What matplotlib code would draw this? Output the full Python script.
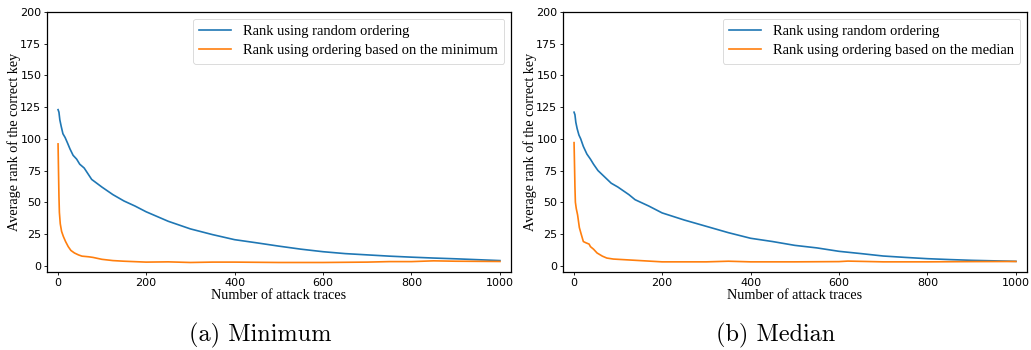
import matplotlib
matplotlib.use("Agg")
import matplotlib.pyplot as plt

# ---- data ----
min_rand_x = [1, 3, 5, 8, 12, 17, 22, 28, 35, 43, 50, 60, 77, 100, 125, 150, 175, 200, 250, 300,
              350, 400, 450, 500, 550, 600, 650, 700, 750, 800, 850, 900, 950, 1000]
min_rand_y = [123, 121, 115, 110, 104, 101, 97, 92, 87, 84, 80, 77, 68, 62, 56, 51, 47, 42.5, 35, 29,
              24.5, 20.5, 18, 15.4, 13, 11, 9.5, 8.5, 7.5, 6.7, 6, 5.4, 4.7, 4]
min_ord_x = [1, 2, 3, 4, 6, 9, 13, 18, 24, 30, 38, 47, 55, 70, 80, 100, 125, 150, 200, 250, 300,
             350, 400, 500, 600, 700, 750, 800, 850, 900, 1000]
min_ord_y = [96, 75, 55, 42, 33, 27, 23, 19, 15, 12, 10, 8.5, 7.5, 7, 6.5, 5, 4, 3.5, 2.8, 3, 2.5,
             2.8, 2.8, 2.5, 2.5, 2.8, 3.2, 3.2, 3.8, 3.5, 3.3]

med_rand_x = [1, 3, 5, 8, 12, 16, 22, 30, 38, 45, 55, 70, 85, 100, 125, 139, 170, 200, 250, 300,
              350, 400, 450, 500, 550, 600, 650, 700, 750, 800, 850, 900, 950, 1000]
med_rand_y = [121, 119, 113, 108, 103, 100, 94, 88, 84, 80, 75, 70, 65, 62, 56, 52, 47, 41.6, 36, 31,
              26, 21.6, 19, 16, 14, 11.3, 9.5, 7.6, 6.5, 5.5, 4.8, 4.2, 3.8, 3.4]
med_ord_x = [1, 2, 3, 4, 6, 9, 13, 17, 22, 28, 35, 38, 45, 53, 65, 75, 90, 100, 150, 200, 250,
             300, 350, 400, 500, 600, 620, 700, 800, 900, 1000]
med_ord_y = [97, 80, 62, 50, 45, 40, 30, 25, 19, 18, 17, 15, 13, 10, 7.5, 6, 5.2, 5, 4, 3, 3,
             3, 3.5, 3, 3, 3.2, 3.6, 3, 3, 3.2, 3.3]

panels = [
    ("(a) Minimum", "Rank using ordering based on the minimum", min_rand_x, min_rand_y, min_ord_x, min_ord_y),
    ("(b) Median", "Rank using ordering based on the median", med_rand_x, med_rand_y, med_ord_x, med_ord_y),
]

W, H = 1031, 350
fig = plt.figure(figsize=(W / 100, H / 100), dpi=100)

serif = ["Liberation Serif", "DejaVu Serif"]
axes_px = [(47, 511), (563, 1027)]
caption_cx = [260, 776]
top_px, bot_px = 12, 272

for (caption, lab2, rx, ry, ox, oy), (l, r), cx in zip(panels, axes_px, caption_cx):
    ax = fig.add_axes([l / W, (H - bot_px) / H, (r - l) / W, (bot_px - top_px) / H])
    ax.plot(rx, ry, color="#1f77b4", lw=1.2, label="Rank using random ordering")
    ax.plot(ox, oy, color="#ff7f0e", lw=1.2, label=lab2)
    ax.set_xlim(-24, 1025)
    ax.set_ylim(-5, 200)
    ax.set_xticks([0, 200, 400, 600, 800, 1000])
    ax.set_yticks([0, 25, 50, 75, 100, 125, 150, 175, 200])
    ax.tick_params(labelsize=8, length=2.5, width=0.6, pad=1.5)
    for t in ax.get_xticklabels() + ax.get_yticklabels():
        t.set_fontfamily("DejaVu Sans")
    for s in ax.spines.values():
        s.set_linewidth(0.9)
    ax.set_xlabel("Number of attack traces", fontfamily=serif, fontsize=10.2, labelpad=1)
    ax.set_ylabel("Average rank of the correct key", fontfamily=serif, fontsize=10.2)
    ax.yaxis.set_label_coords(-0.055, 0.5)
    leg = ax.legend(loc="upper right", prop={"family": serif, "size": 10.5},
                    handlelength=2.2, borderpad=0.45, labelspacing=0.4, borderaxespad=0.45)
    leg.get_frame().set_linewidth(0.6)
    fig.text(cx / W, 1 - 341 / H, caption, ha="center", va="baseline",
             fontfamily="cmr10", fontsize=17.5)

fig.savefig("out.png", dpi=100)
